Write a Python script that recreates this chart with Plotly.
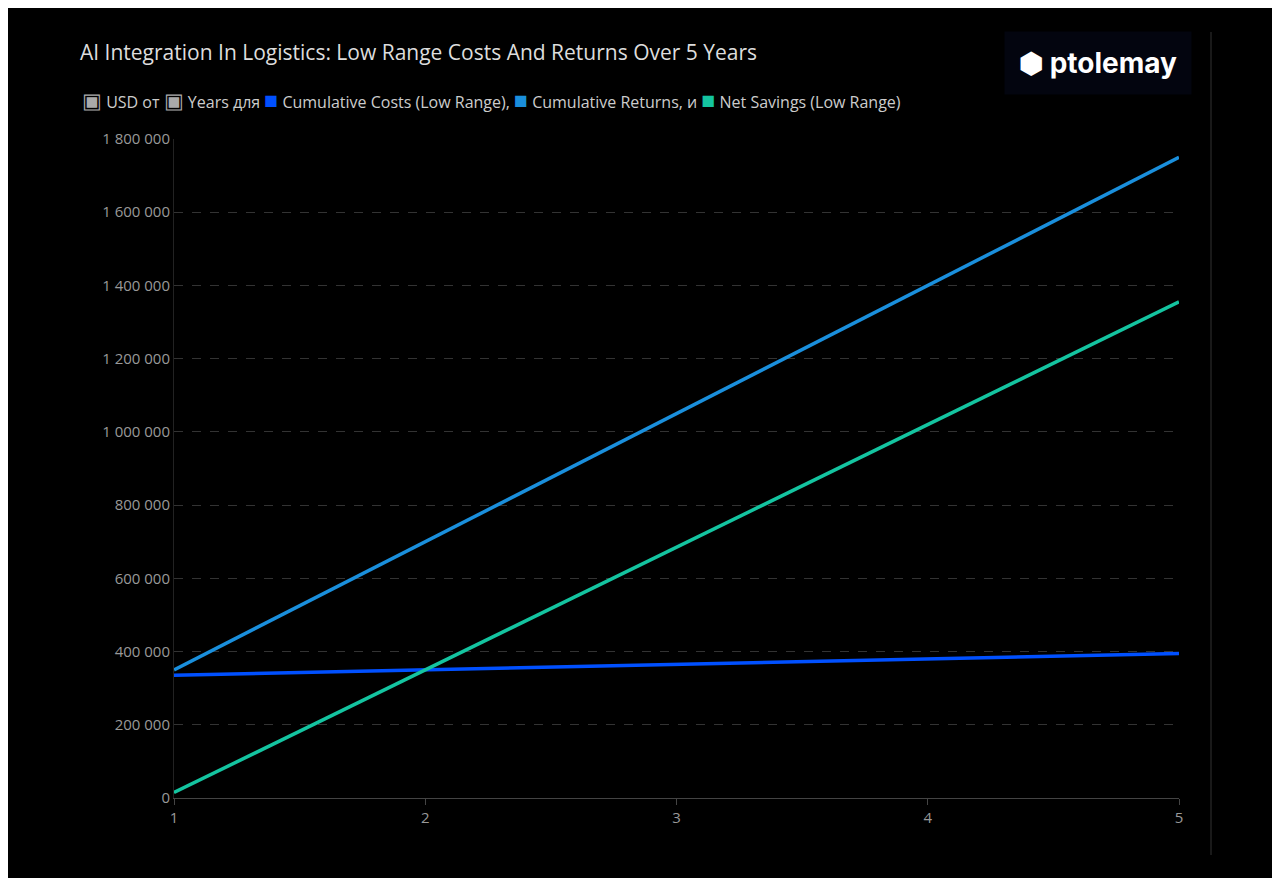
import plotly.graph_objects as go

years = [1, 2, 3, 4, 5]
cumulative_costs = [335000, 350000, 365000, 380000, 395000]
cumulative_returns = [350000, 700000, 1050000, 1400000, 1750000]
net_savings = [15000, 350000, 685000, 1020000, 1355000]

y_ticks = [0, 200000, 400000, 600000, 800000, 1000000, 1200000, 1400000, 1600000, 1800000]
y_labels = ["0", "200 000", "400 000", "600 000", "800 000", "1 000 000",
            "1 200 000", "1 400 000", "1 600 000", "1 800 000"]

series = [
    ("Cumulative Costs (Low Range)", cumulative_costs, "#0050ff"),
    ("Cumulative Returns", cumulative_returns, "#1a8fdc"),
    ("Net Savings (Low Range)", net_savings, "#14c4a0"),
]

fig = go.Figure()
for name, values, color in series:
    fig.add_trace(go.Scatter(x=years, y=values, name=name, mode="lines",
                             line=dict(color=color, width=3.5)))

legend_text = (
    "<span style='color:#aaaaaa;font-size:21px'>▣</span> USD от "
    "<span style='color:#aaaaaa;font-size:21px'>▣</span> Years для "
    "<span style='color:#0050ff;font-size:23px'>■</span> Cumulative Costs (Low Range), "
    "<span style='color:#1a8fdc;font-size:23px'>■</span> Cumulative Returns, и "
    "<span style='color:#14c4a0;font-size:23px'>■</span> Net Savings (Low Range)"
)

# the page puts the figure 8 px in from the top left
W, H = 1264, 870
L, R, T, B = 166, 93, 131, 80
PW, PH = W - L - R, H - T - B


def px_x(x):
    return (x - 8 - L) / PW


def px_y(y):
    return (H - B - (y - 8)) / PH


fig.update_layout(
    width=W, height=H,
    paper_bgcolor="black", plot_bgcolor="black",
    font=dict(family="Open Sans", color="#cccccc", size=15),
    showlegend=False,
    margin=dict(l=L, r=R, t=T, b=B),
    title=dict(text="AI Integration In Logistics: Low Range Costs And Returns Over 5 Years",
               x=(80 - 8) / W, xanchor="left", y=1 - (53 - 8) / H, yanchor="middle",
               font=dict(size=21, color="#dddddd")),
    shapes=[
        dict(type="line", xref="paper", yref="paper",
             x0=px_x(1211), x1=px_x(1211), y0=px_y(855), y1=px_y(32),
             line=dict(color="#333333", width=1)),
    ],
    annotations=[
        dict(text=legend_text, xref="paper", yref="paper",
             x=px_x(80), y=px_y(99), xanchor="left", yanchor="middle",
             showarrow=False, font=dict(size=16, color="#cccccc")),
        dict(text="<b>⬢ ptolemay</b>", xref="paper", yref="paper",
             x=px_x(1192), y=px_y(63), xanchor="right", yanchor="middle",
             showarrow=False, bgcolor="#03050f", borderpad=14,
             font=dict(size=28, color="white", family="Inter")),
    ],
)
fig.update_xaxes(range=[1, 5], tickvals=years, showgrid=False, zeroline=False,
                 showline=True, linecolor="#444444", ticks="outside", tickcolor="#444444",
                 ticklen=6, tickfont=dict(color="#999999", size=15))
fig.update_yaxes(range=[0, 1800000], tickvals=y_ticks, ticktext=y_labels,
                 showgrid=True, gridcolor="#333333", griddash="dash", zeroline=False,
                 showline=True, linecolor="#222222", tickfont=dict(color="#999999", size=15))

fig.write_html("out.html")
